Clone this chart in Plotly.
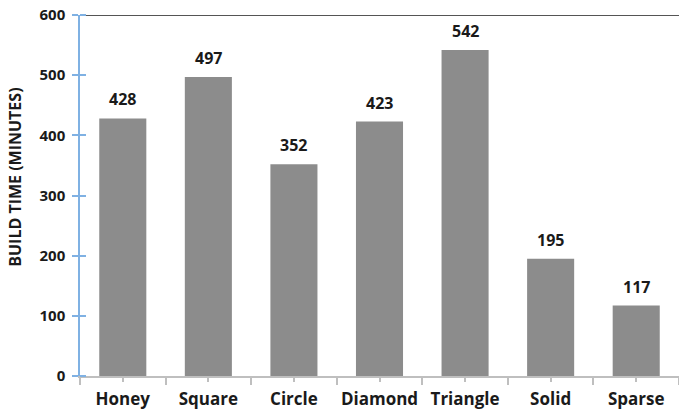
import plotly.graph_objects as go

categories = ["Honey", "Square", "Circle", "Diamond", "Triangle", "Solid", "Sparse"]
build_minutes = [428, 497, 352, 423, 542, 195, 117]
y_ticks = [0, 100, 200, 300, 400, 500, 600]

positions = list(range(len(categories)))
boundaries = [p - 0.5 for p in positions] + [positions[-1] + 0.5]

FONT = "'Open Sans', sans-serif"
TEXT = "#1a1a1a"

fig = go.Figure()
fig.add_trace(go.Bar(
    x=positions,
    y=build_minutes,
    marker=dict(color="#8c8c8c", line=dict(width=0)),
    width=0.55,
    hoverinfo="x+y",
))

for p, v in zip(positions, build_minutes):
    fig.add_annotation(
        x=p, y=v, text=str(v), showarrow=False, yanchor="bottom", yshift=6,
        font=dict(family=FONT, size=16, color=TEXT, weight="bold"),
    )

# vertical axis title, sitting a little above the axis midpoint
fig.add_annotation(
    text="BUILD TIME (MINUTES)", xref="paper", yref="paper",
    x=-0.108, y=0.55, xanchor="center", yanchor="middle",
    textangle=-90, showarrow=False,
    font=dict(family=FONT, size=16, color=TEXT, weight="bold"),
)

# dark frame line across the top of the value range
fig.add_shape(type="line", xref="paper", yref="y", x0=0.01, x1=1, y0=600, y1=600,
              line=dict(color="#555555", width=2))

fig.update_layout(
    width=679, height=412,
    margin=dict(l=80, r=0, t=15, b=36),
    paper_bgcolor="white", plot_bgcolor="white",
    showlegend=False,
    font=dict(family=FONT, color=TEXT),
    xaxis=dict(
        range=[boundaries[0], boundaries[-1]],
        tickmode="array", tickvals=positions, ticktext=categories,
        ticks="outside", ticklen=4, tickcolor="#bfbfbf", tickwidth=1.5,
        minor=dict(tickmode="array", tickvals=boundaries, ticks="outside",
                   ticklen=7, tickcolor="#bfbfbf", tickwidth=1.5),
        showline=True, linecolor="#bfbfbf", linewidth=1.5,
        showgrid=False, zeroline=False, ticklabelstandoff=3,
        tickfont=dict(family=FONT, size=17, color=TEXT, weight="bold"),
    ),
    yaxis=dict(
        range=[0, 600],
        tickmode="array", tickvals=y_ticks,
        ticks="outside", ticklen=6, tickcolor="#7fb1e3", tickwidth=1.5,
        minor=dict(tickmode="array", tickvals=y_ticks, ticks="inside",
                   ticklen=6, tickcolor="#7fb1e3", tickwidth=1.5),
        showline=True, linecolor="#7fb1e3", linewidth=1.5,
        showgrid=False, zeroline=False, ticklabelstandoff=4,
        tickfont=dict(family=FONT, size=15, color=TEXT, weight="bold"),
    ),
)

fig.write_html("out.html")
